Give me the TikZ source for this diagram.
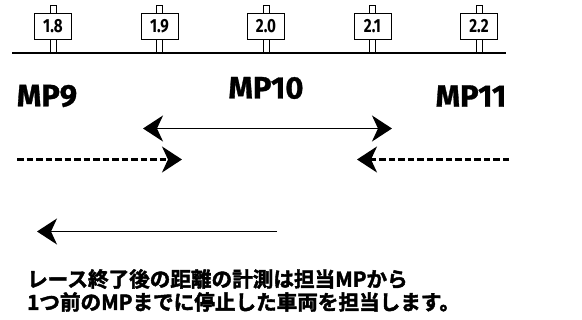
\documentclass[tikz,border=0pt]{standalone}
\usepackage{fontspec}
\usetikzlibrary{arrows.meta}
\newfontfamily\cjkb[FakeBold=2]{Noto Sans CJK JP Bold}
\newfontfamily\mpfont[FakeBold=1]{Fira Sans Bold}
\newfontfamily\signfont[FakeStretch=0.8]{Fira Sans Bold}
\tikzset{
  signbox/.style={draw, line width=0.9pt, minimum width=37pt, minimum height=26pt, inner sep=0pt, font=\signfont\fontsize{19}{19}\selectfont, fill=white},
  post/.style={draw, line width=0.9pt, fill=white},
  mplabel/.style={font=\mpfont\fontsize{31}{31}\selectfont, inner sep=0pt},
  headtip/.tip={Stealth[length=20pt, width=26pt, inset=6pt]},
  jp/.style={font=\cjkb\fontsize{20.6}{23}\selectfont, anchor=west, inner sep=0pt},
}
\begin{document}
\begin{tikzpicture}[x=1pt, y=-1pt]
\useasboundingbox (0,0) rectangle (582,320);
% road line
\coordinate (roadL) at (12,53.5);
\coordinate (roadR) at (506,53.5);
% signs
\foreach \name/\x/\t in {s18/53/1.8, s19/159.5/1.9, s20/266/2.0, s21/372.5/2.1, s22/479/2.2}{
  \draw[post] (\x-3,5) rectangle (\x+3,14);
  \draw[post] (\x-3,39) rectangle (\x+3,53);
  \node[signbox] (\name) at (\x,26.5) {\t};
}
\draw[line width=2pt] (roadL) -- (roadR);
% MP labels
\node[mplabel] (mp9) at (47,96) {MP9};
\node[mplabel] (mp10) at (266,88) {MP10};
\node[mplabel] (mp11) at (471,96) {MP11};
% double arrow
\coordinate (dL) at (143,128.5);
\coordinate (dR) at (392,128.5);
\draw[line width=1.8pt, headtip-headtip] (dL) -- (dR);
% dashed arrows
\coordinate (aL0) at (17,159.5);
\coordinate (aL1) at (182,159.5);
\coordinate (aR0) at (509,159.5);
\coordinate (aR1) at (357,159.5);
\draw[line width=2.2pt, dash pattern=on 6.5pt off 3pt, -headtip] (aL0) -- (aL1);
\draw[line width=2.2pt, dash pattern=on 6.5pt off 3pt, -headtip] (aR0) -- (aR1);
% bottom arrow
\coordinate (bR) at (277,231.5);
\coordinate (bL) at (37,231.5);
\draw[line width=1.6pt, -headtip] (bR) -- (bL);
% text
\node[jp] (t1) at (27,279) {レース終了後の距離の計測は担当MPから};
\node[jp] (t2) at (27,302) {1つ前のMPまでに停止した車両を担当します。};
\end{tikzpicture}
\end{document}
